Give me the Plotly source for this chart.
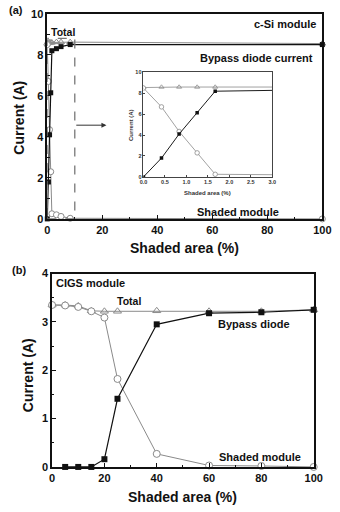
import plotly.graph_objects as go

# ---- Panel (a): c-Si module ----
shaded_area_a = [0, 0.42, 0.83, 1.25, 1.67, 3.33, 5, 8.33, 100]
total_a = [8.55, 8.6, 8.6, 8.6, 8.6, 8.62, 8.62, 8.62, 8.55]
diode_a = [0, 1.8, 4.1, 6.15, 8.2, 8.3, 8.4, 8.5, 8.5]
shaded_a = [8.5, 6.7, 4.35, 2.3, 0.25, 0.2, 0.12, 0.03, 0.0]

# ---- Panel (b): CIGS module ----
shaded_area_b = [0, 5, 10, 15, 20, 25, 40, 60, 80, 100]
total_b = [3.35, 3.35, 3.33, 3.23, 3.22, 3.22, 3.23, 3.22, 3.22, 3.25]
shaded_b = [3.35, 3.34, 3.31, 3.22, 3.09, 1.82, 0.27, 0.03, 0.02, 0.0]
diode_area_b = [5, 10, 15, 20, 25, 40, 60, 80, 100]
diode_b = [0, 0, 0, 0.16, 1.41, 2.95, 3.18, 3.2, 3.25]

FONT = "Liberation Sans, Arial, sans-serif"
GRAY = "#8a8a8a"
BLACK = "#111111"
W, H = 340, 512

fig = go.Figure()

def add_set(xs, tot, shd, dx, dio, xa, ya, msize, lw, clip):
    fig.add_trace(go.Scatter(x=xs, y=tot, mode="lines+markers",
        line=dict(color=GRAY, width=lw), marker=dict(symbol="triangle-up-open", size=msize + 1, color=GRAY, line=dict(width=lw)),
        xaxis=xa, yaxis=ya, showlegend=False, cliponaxis=clip))
    fig.add_trace(go.Scatter(x=xs, y=shd, mode="lines+markers",
        line=dict(color=GRAY, width=lw), marker=dict(symbol="circle", size=msize + 1, color="white", line=dict(color=GRAY, width=lw)),
        xaxis=xa, yaxis=ya, showlegend=False, cliponaxis=clip))
    fig.add_trace(go.Scatter(x=dx, y=dio, mode="lines+markers",
        line=dict(color=BLACK, width=lw * 1.2), marker=dict(symbol="square", size=msize, color=BLACK),
        xaxis=xa, yaxis=ya, showlegend=False, cliponaxis=clip))

add_set(shaded_area_a, total_a, shaded_a, shaded_area_a, diode_a, "x", "y", 5, 1, False)
add_set(shaded_area_a, total_a, shaded_a, shaded_area_a, diode_a, "x3", "y3", 3.5, 0.8, True)
add_set(shaded_area_b, total_b, shaded_b, diode_area_b, diode_b, "x2", "y2", 6, 1, False)

def px_x(p):
    return p / W

def px_y(p):
    return 1 - p / H

tickfont = dict(family=FONT, size=11, color=BLACK, weight="bold")
axis_common = dict(showline=True, linecolor=BLACK, linewidth=1.5, mirror=True,
                   ticks="inside", ticklen=4, tickcolor=BLACK, tickwidth=1.2,
                   showgrid=False, zeroline=False, tickfont=tickfont)

fig.update_layout(
    width=W, height=H, margin=dict(l=0, r=0, t=0, b=0),
    paper_bgcolor="white", plot_bgcolor="white",
    xaxis=dict(domain=[px_x(45), px_x(331)], range=[0, 100], dtick=20, anchor="y",
               minor=dict(dtick=10, ticks="inside", ticklen=2.5, tickcolor=BLACK),
               **axis_common),
    yaxis=dict(domain=[px_y(218), px_y(8)], range=[0, 10], dtick=2, anchor="x",
               minor=dict(dtick=1, ticks="inside", ticklen=2.5, tickcolor=BLACK),
               **axis_common),
    xaxis2=dict(domain=[px_x(50), px_x(322)], range=[0, 100], dtick=20, anchor="y2",
                minor=dict(dtick=10, ticks="inside", ticklen=2.5, tickcolor=BLACK),
                **axis_common),
    yaxis2=dict(domain=[px_y(472), px_y(274)], range=[0, 4], dtick=1, anchor="x2",
                minor=dict(dtick=0.5, ticks="inside", ticklen=2.5, tickcolor=BLACK),
                **axis_common),
    xaxis3=dict(domain=[px_x(145), px_x(279)], range=[0, 3], dtick=0.5, tickformat=".1f", anchor="y3",
                showline=True, linecolor="#444", linewidth=0.8, mirror=True,
                ticks="inside", ticklen=2, tickcolor="#444", showgrid=False, zeroline=False,
                tickfont=dict(family=FONT, size=5.5, color="#333", weight="bold")),
    yaxis3=dict(domain=[px_y(175), px_y(68)], range=[0, 10], dtick=2, anchor="x3",
                showline=True, linecolor="#444", linewidth=0.8, mirror=True,
                ticks="inside", ticklen=2, tickcolor="#444", showgrid=False, zeroline=False,
                tickfont=dict(family=FONT, size=5.5, color="#333", weight="bold")),
)

# dashed zoom box and arrow in panel (a)
fig.add_shape(type="rect", xref="x", yref="y", x0=0, x1=10, y0=0, y1=8.8,
              line=dict(color="#777", width=1.3, dash="dash"))
fig.add_annotation(xref="x", yref="y", axref="x", ayref="y", x=21.5, y=4.57, ax=10, ay=4.57,
                   text="", showarrow=True, arrowhead=2, arrowsize=1, arrowwidth=1, arrowcolor="#333")

def note(text, x, y, xref, yref, size=11, xanchor="center", yanchor="middle", angle=0, color=BLACK):
    fig.add_annotation(text=text, x=x, y=y, xref=xref, yref=yref, showarrow=False,
                       xanchor=xanchor, yanchor=yanchor, textangle=angle,
                       font=dict(family=FONT, size=size, color=color, weight="bold"))

# panel (a) texts
note("(a)", px_x(3), px_y(4), "paper", "paper", size=11, xanchor="left")
note("c-Si module", 98.5, 9.5, "x", "y", size=11, xanchor="right")
note("Total", 0.8, 9.1, "x", "y", size=10.5, xanchor="left")
note("Bypass diode current", 97.5, 7.85, "x", "y", size=11, xanchor="right")
note("Shaded module", 69.5, 0.35, "x", "y", size=11)
note("Current (A)", px_x(16), px_y(114), "paper", "paper", size=14, angle=-90)
note("Shaded area (%)", px_x(188), px_y(248), "paper", "paper", size=14)
# inset titles
note("Current (A)", px_x(132), px_y(122), "paper", "paper", size=6, angle=-90, color="#333")
note("Shaded area (%)", px_x(212), px_y(191), "paper", "paper", size=6, color="#333")

# panel (b) texts
note("(b)", px_x(6), px_y(270), "paper", "paper", size=11, xanchor="left")
note("CIGS module", 0.7, 3.8, "x2", "y2", size=11, xanchor="left")
note("Total", 29.4, 3.43, "x2", "y2", size=10.5)
note("Bypass diode", 77, 2.95, "x2", "y2", size=11)
note("Shaded module", 79.4, 0.2, "x2", "y2", size=11)
note("Current (A)", px_x(25), px_y(378), "paper", "paper", size=14, angle=-90)
note("Shaded area (%)", px_x(186), px_y(503), "paper", "paper", size=14)

fig.write_html("out.html")
